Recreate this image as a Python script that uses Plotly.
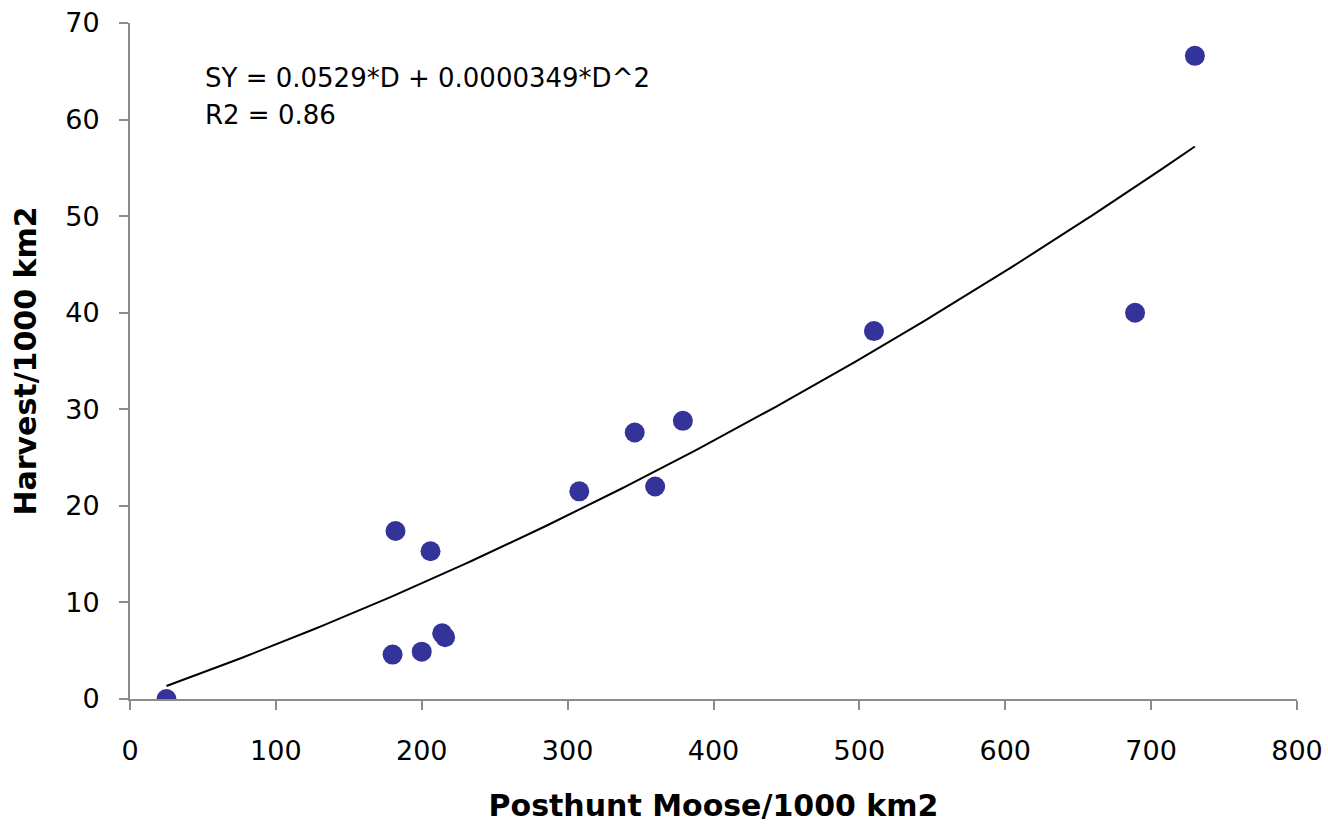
import numpy as np
import plotly.graph_objects as go

# Data
moose = [25, 180, 200, 214, 216, 182, 206, 308, 346, 360, 379, 510, 689, 730]
harvest = [0.0, 4.6, 4.9, 6.8, 6.4, 17.4, 15.3, 21.5, 27.6, 22.0, 28.8, 38.1, 40.0, 66.6]

# Trend line coefficients (as printed on the chart)
coef_lin = 0.0529
coef_quad = 0.0000349
trend_x = np.linspace(min(moose), max(moose), 200)
trend_y = coef_lin * trend_x + coef_quad * trend_x ** 2

x_ticks = [0, 100, 200, 300, 400, 500, 600, 700, 800]
y_ticks = [0, 10, 20, 30, 40, 50, 60, 70]

FONT = "DejaVu Sans"
AXIS_COLOR = "#8c8c8c"

fig = go.Figure()
fig.add_trace(go.Scatter(
    x=trend_x, y=trend_y, mode="lines",
    line=dict(color="black", width=2), showlegend=False, hoverinfo="skip"))
fig.add_trace(go.Scatter(
    x=moose, y=harvest, mode="markers",
    marker=dict(color="#333399", size=20), showlegend=False))

fig.add_annotation(x=50, y=64.3, xref="x", yref="y", xanchor="left", yanchor="middle",
                   text="SY = 0.0529*D + 0.0000349*D^2", showarrow=False,
                   font=dict(family=FONT, size=26, color="black"))
fig.add_annotation(x=50, y=60.5, xref="x", yref="y", xanchor="left", yanchor="middle",
                   text="R2 = 0.86", showarrow=False,
                   font=dict(family=FONT, size=26, color="black"))

fig.update_layout(
    width=1328, height=825,
    margin=dict(l=130, r=31, t=23, b=126),
    plot_bgcolor="white", paper_bgcolor="white",
    font=dict(family=FONT, size=27, color="black"),
)
fig.update_xaxes(
    range=[0, 800], tickvals=x_ticks, showgrid=False, zeroline=False,
    showline=True, linecolor=AXIS_COLOR, linewidth=2, automargin=False,
    ticks="outside", ticklen=9, tickwidth=2, tickcolor=AXIS_COLOR,
    ticklabelstandoff=18,
    title=dict(text="<b>Posthunt Moose/1000 km2</b>", standoff=30,
               font=dict(family=FONT, size=30)),
)
fig.update_yaxes(
    range=[0, 70], tickvals=y_ticks, showgrid=False, zeroline=False,
    showline=True, linecolor=AXIS_COLOR, linewidth=2, automargin=False,
    ticks="outside", ticklen=9, tickwidth=2, tickcolor=AXIS_COLOR,
    ticklabelstandoff=14,
    title=dict(text="<b>Harvest/1000 km2</b>", standoff=20,
               font=dict(family=FONT, size=30)),
)

fig.write_html(
    "out.html",
    config={"displayModeBar": False},
    post_script="document.body.style.margin='0';document.body.style.overflow='hidden';",
)
